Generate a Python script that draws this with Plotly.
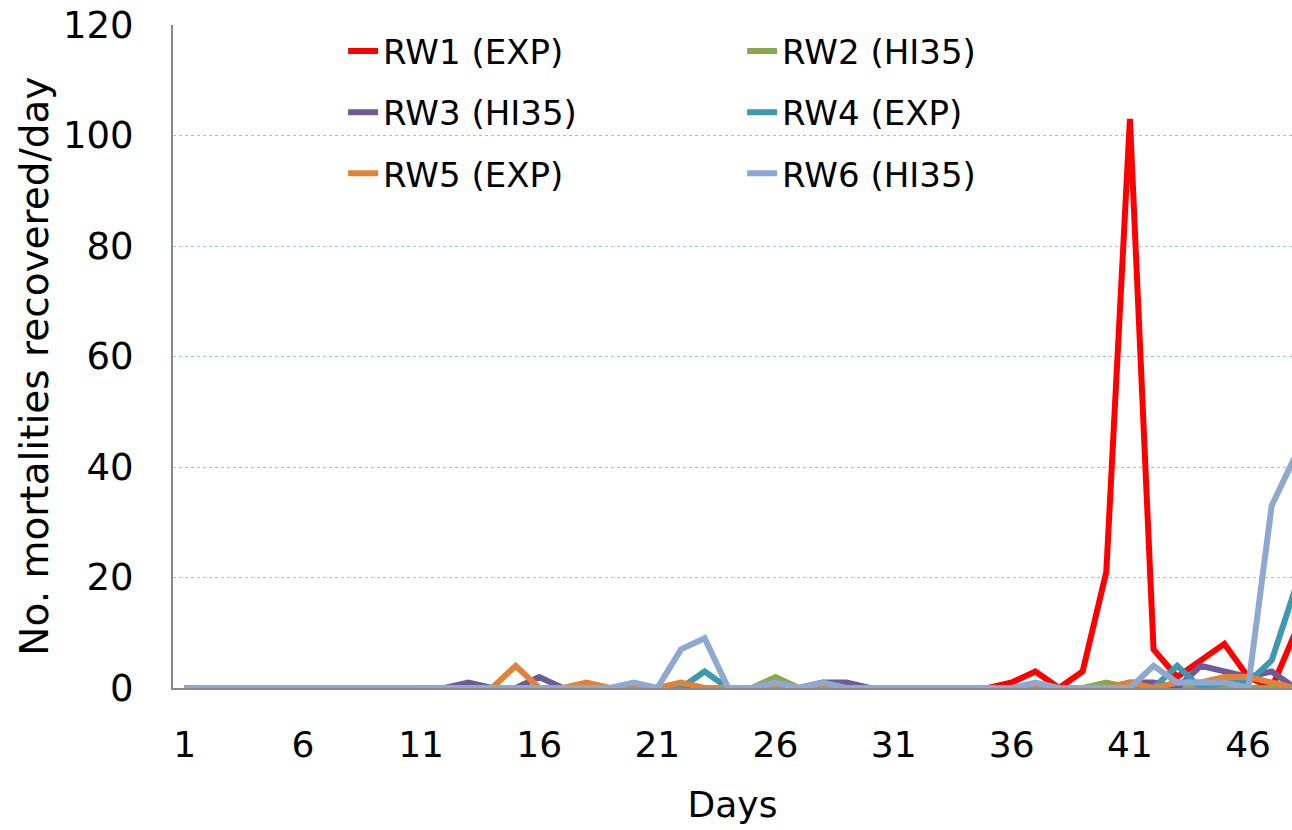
import plotly.graph_objects as go

# Daily mortalities recovered per raceway, days 1-48
days = list(range(1, 49))

rw1_exp = [0] * 35 + [1, 3, 0, 3, 21, 103, 7, 2, 5, 8, 2, 0, 10]

rw2_hi35 = [0] * 48
rw2_hi35[26 - 1] = 2
rw2_hi35[40 - 1] = 1

rw3_hi35 = [0] * 48
for d, v in {13: 1, 16: 2, 28: 1, 29: 1, 41: 1, 42: 1, 44: 4, 45: 3, 46: 2, 47: 3}.items():
    rw3_hi35[d - 1] = v

rw4_exp = [0] * 48
for d, v in {23: 3, 43: 4, 45: 1, 46: 1, 47: 5, 48: 18}.items():
    rw4_exp[d - 1] = v

rw5_exp = [0] * 48
for d, v in {15: 4, 18: 1, 22: 1, 41: 1, 43: 1, 44: 1, 45: 2, 46: 2, 47: 1}.items():
    rw5_exp[d - 1] = v

rw6_hi35 = [0] * 48
for d, v in {20: 1, 22: 7, 23: 9, 26: 1, 28: 1, 37: 1, 42: 4, 43: 1, 44: 1, 45: 1, 47: 33, 48: 42}.items():
    rw6_hi35[d - 1] = v

series = [
    ("RW1 (EXP)", rw1_exp, "#FF0000", "legend"),
    ("RW2 (HI35)", rw2_hi35, "#8AA84F", "legend2"),
    ("RW3 (HI35)", rw3_hi35, "#705A96", "legend"),
    ("RW4 (EXP)", rw4_exp, "#3E99B0", "legend2"),
    ("RW5 (EXP)", rw5_exp, "#E0833A", "legend"),
    ("RW6 (HI35)", rw6_hi35, "#8FA8CF", "legend2"),
]

y_ticks = [0, 20, 40, 60, 80, 100, 120]
x_ticks = [1, 6, 11, 16, 21, 26, 31, 36, 41, 46]

FONT = "DejaVu Sans"

fig = go.Figure()
for name, vals, color, leg in series:
    fig.add_trace(go.Scatter(
        x=days, y=vals, name=name, mode="lines",
        line=dict(color=color, width=6),
        legend=leg, legendgroup=name,
    ))

legend_common = dict(
    orientation="v",
    bgcolor="rgba(0,0,0,0)",
    font=dict(family=FONT, size=34, color="#000000"),
    tracegroupgap=14,
    yanchor="top",
    xanchor="left",
)

fig.update_layout(
    width=1292, height=830,
    margin=dict(l=173, r=0, t=25, b=142),
    paper_bgcolor="white",
    plot_bgcolor="white",
    font=dict(family=FONT, color="#000000"),
    legend=dict(x=0.152, y=1.004, **legend_common),
    legend2=dict(x=0.5086, y=1.004, **legend_common),
    xaxis=dict(
        range=[0.5, 47.86],
        tickmode="array", tickvals=x_ticks, ticktext=[str(t) for t in x_ticks],
        tickfont=dict(family=FONT, size=36),
        ticks="", ticklabelstandoff=24,
        showgrid=False, zeroline=False,
        showline=True, linecolor="#888888", linewidth=2,
        title=dict(text="Days", font=dict(family=FONT, size=36), standoff=28),
    ),
    yaxis=dict(
        range=[0, 120],
        tickmode="array", tickvals=y_ticks, ticktext=[str(t) for t in y_ticks],
        tickfont=dict(family=FONT, size=37),
        ticks="", ticklabelstandoff=30,
        showgrid=True, gridcolor="#8CCCD6", gridwidth=1.2, griddash="dot",
        zeroline=False,
        showline=True, linecolor="#888888", linewidth=2,
    ),
)

# Vertical y-axis title, placed in paper space to the left of the tick labels
fig.add_annotation(
    text="No. mortalities recovered/day",
    textangle=-90,
    xref="paper", yref="paper",
    x=-0.124, y=0.485,
    xanchor="center", yanchor="middle",
    showarrow=False,
    font=dict(family=FONT, size=39, color="#000000"),
)

fig.write_html("out.html")
